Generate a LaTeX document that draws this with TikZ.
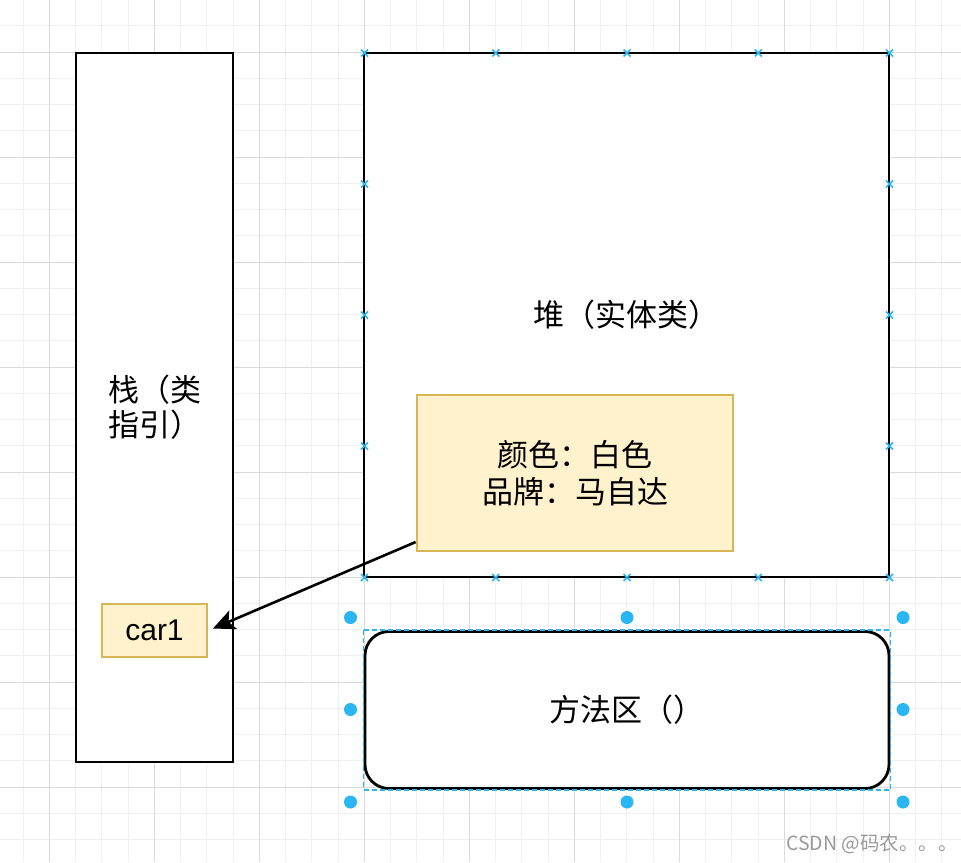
\documentclass[tikz,border=0pt]{standalone}
\usepackage{fontspec}
\setmainfont{Noto Sans CJK SC}
\newfontfamily\latinfont{Liberation Sans}
\usetikzlibrary{arrows.meta,calc}
\definecolor{gridminor}{HTML}{F0F0F0}
\definecolor{gridmajor}{HTML}{DADADA}
\definecolor{notefill}{HTML}{FFF2CC}
\definecolor{notedraw}{HTML}{D6B656}
\definecolor{selblue}{HTML}{29B6F2}
\definecolor{wmgray}{HTML}{9A9A9A}
\tikzset{
  minorline/.style={draw=gridminor, line width=1pt},
  majorline/.style={draw=gridmajor, line width=1pt},
  blackbox/.style={draw=black, fill=white, line width=2.8pt, rectangle, inner sep=0pt,
    font={\fontsize{31}{35}\selectfont}},
  notebox/.style={draw=notedraw, fill=notefill, line width=2.6pt, rectangle, inner sep=0pt,
    font={\fontsize{31}{37}\selectfont}, align=center},
  link/.style={draw=black, line width=2.6pt, -{Stealth[length=22pt,width=20pt,inset=5pt]}},
  cross/.style={draw=selblue, line width=1.5pt},
  handle/.style={fill=selblue},
  selbox/.style={draw=selblue, line width=1.4pt, dash pattern=on 5pt off 3pt},
}
\begin{document}
\begin{tikzpicture}[x=1pt,y=-1pt]
\useasboundingbox (0,0) rectangle (961,862);
\fill[white] (0,0) rectangle (961,862);
% grid
\foreach \i in {0,...,37} {\draw[minorline] ({-3.25+26.25*\i},0) -- ({-3.25+26.25*\i},862);}
\foreach \j in {0,...,33} {\draw[minorline] (0,{-0.5+26.25*\j}) -- (961,{-0.5+26.25*\j});}
\foreach \i in {0,...,8} {\draw[majorline] ({49.25+105*\i},0) -- ({49.25+105*\i},862);}
\foreach \j in {0,...,7} {\draw[majorline] (0,{52+105*\j}) -- (961,{52+105*\j});}

% stack
\node[blackbox, minimum width=157pt, minimum height=709pt, align=left] (stack) at (154.5,407.5) {栈（类\\指引）};
% heap
\node[blackbox, minimum width=525pt, minimum height=524pt] (heap) at (626.5,315) {\raisebox{-2pt}{堆（实体类）}};
% object info
\node[notebox, minimum width=316pt, minimum height=156pt] (info) at (575,473) {颜色：白色\\品牌：马自达};
% car1
\node[notebox, minimum width=105pt, minimum height=53pt, font={\latinfont\fontsize{30}{34}\selectfont}] (car) at (154.5,630.5) {car1};
% method area
\node[blackbox, rounded corners=24pt, minimum width=524pt, minimum height=157pt] (method) at (627,710) {方法区（）};

% arrow
\draw[link, shorten >=5pt] ($(info.west)+(0,69)$) -- (car.east);

% heap selection crosses
\foreach \x in {364.5,495.75,627,758.25,889.5} {
  \foreach \y in {53,577.5} {
    \draw[cross] (\x-3.5,\y-3.5) -- (\x+3.5,\y+3.5) (\x-3.5,\y+3.5) -- (\x+3.5,\y-3.5);
  }
}
\foreach \y in {184,315,446} {
  \foreach \x in {364.5,889.5} {
    \draw[cross] (\x-3.5,\y-3.5) -- (\x+3.5,\y+3.5) (\x-3.5,\y+3.5) -- (\x+3.5,\y-3.5);
  }
}

% method selection
\draw[selbox] (method.north west) rectangle (method.south east);
\foreach \p in {(350.5,617.5),(627,617.5),(903,617.5),(350.5,709.5),(903,709.5),(350.5,802),(627,802),(903,802)} {
  \fill[handle] \p circle[radius=6.5pt];
}

% watermark
\node[anchor=west, text=wmgray, inner sep=0pt, font={\fontsize{19.5}{22}\selectfont}] (wm) at (786,844) {CSDN @码农。。。};
\end{tikzpicture}
\end{document}
